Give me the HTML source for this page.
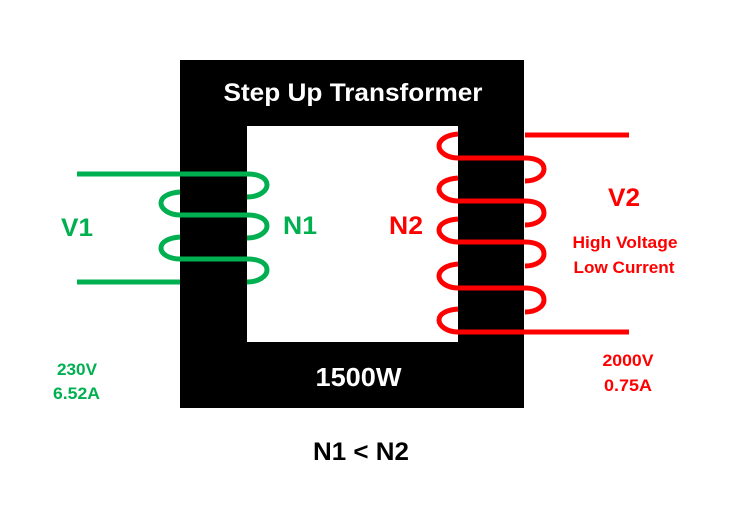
<!DOCTYPE html>
<html><head><meta charset="utf-8"><style>html,body{margin:0;padding:0;background:#fff}svg{display:block}text{font-family:"Liberation Sans",sans-serif;font-weight:bold;text-anchor:middle}</style></head>
<body><svg width="747" height="506" viewBox="0 0 747 506" xmlns="http://www.w3.org/2000/svg">
<rect width="747" height="506" fill="#fff"/>
<path fill="#000" fill-rule="evenodd" d="M180 60H524V408H180ZM247 126V342H458V126Z"/>
<g fill="none" stroke="#00b050" stroke-width="5">
<path d="M77 174H247C261 174 267 179 267 185C267 191 259 197 247 197"/>
<path d="M180 192C168 193 161 197 161 203C161 209 169 215 180 215H247C261 215 267 220 267 226C267 232 259 238 247 238"/>
<path d="M180 237C168 238 161 242 161 248C161 254 169 259 180 259H247C261 259 267 264 267 270C267 276 259 282 247 282"/>
<path d="M77 282H180"/>
</g>
<g fill="none" stroke="#f00" stroke-width="5">
<path d="M525 135H629"/>
<path d="M458 134C446 135 439 140 439 146C439 152 447 158 458 158H525C538 158 544 163 544 169C544 175 537 181 525 181"/>
<path d="M458 178C446 179 439 183 439 189C439 195 447 201 458 201H525C538 201 544 206 544 213C544 219 537 225 525 225"/>
<path d="M458 219C446 220 439 224 439 230C439 236 447 242 458 242H525C538 242 544 247 544 254C544 260 537 266 525 266"/>
<path d="M458 264C446 265 439 270 439 276C439 282 447 288 458 288H525C538 288 544 293 544 300C544 306 537 312 525 312"/>
<path d="M458 309C446 310 439 314 439 320C439 326 447 332 458 332H629"/>
</g>
<text x="353" y="101" font-size="25" fill="#fff" textLength="259" lengthAdjust="spacingAndGlyphs">Step Up Transformer</text>
<text x="358.5" y="386" font-size="26" fill="#fff" textLength="86" lengthAdjust="spacingAndGlyphs">1500W</text>
<text x="361" y="460" font-size="25" fill="#000" textLength="96" lengthAdjust="spacingAndGlyphs">N1 &lt; N2</text>
<text x="77" y="236" font-size="25" fill="#00b050" textLength="32" lengthAdjust="spacingAndGlyphs">V1</text>
<text x="300" y="234" font-size="25" fill="#00b050" textLength="34" lengthAdjust="spacingAndGlyphs">N1</text>
<text x="406" y="234" font-size="25" fill="#f00" textLength="34" lengthAdjust="spacingAndGlyphs">N2</text>
<text x="624" y="206" font-size="25" fill="#f00" textLength="32" lengthAdjust="spacingAndGlyphs">V2</text>
<text x="625" y="248" font-size="16.5" fill="#f00" textLength="105" lengthAdjust="spacingAndGlyphs">High Voltage</text>
<text x="624" y="273" font-size="16.5" fill="#f00" textLength="101" lengthAdjust="spacingAndGlyphs">Low Current</text>
<text x="77" y="375" font-size="17" fill="#00b050" textLength="40" lengthAdjust="spacingAndGlyphs">230V</text>
<text x="76.500" y="399" font-size="17" fill="#00b050" textLength="47" lengthAdjust="spacingAndGlyphs">6.52A</text>
<text x="628" y="366" font-size="17" fill="#f00" textLength="51" lengthAdjust="spacingAndGlyphs">2000V</text>
<text x="628" y="391" font-size="17" fill="#f00" textLength="48" lengthAdjust="spacingAndGlyphs">0.75A</text>
</svg></body></html>
